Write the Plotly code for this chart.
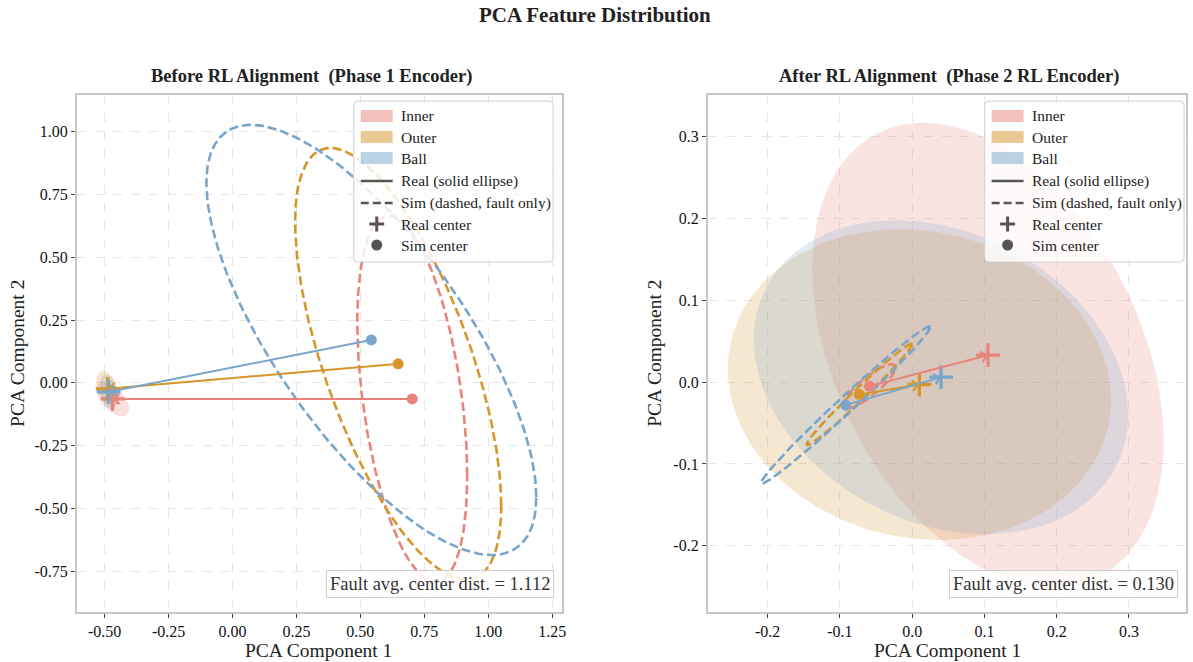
import numpy as np
import plotly.graph_objects as go

# ---------------- data ----------------
classes = ["Inner", "Outer", "Ball"]

# Before RL alignment (Phase 1 encoder)
before_real_cx = [-0.469, -0.488, -0.484]
before_real_cy = [-0.064, -0.024, -0.036]
before_sim_cx = [0.703, 0.648, 0.543]
before_sim_cy = [-0.064, 0.076, 0.171]
before_real_sx = [0.065, 0.045, 0.035]
before_real_sy = [0.070, 0.072, 0.070]
before_real_rho = [-0.60, -0.40, -0.30]
before_sim_sx = [0.215, 0.403, 0.645]
before_sim_sy = [0.730, 0.860, 0.857]
before_sim_rho = [-0.42, -0.657, -0.73]
before_dist_text = "Fault avg. center dist. = 1.112"

# After RL alignment (Phase 2 RL encoder)
after_real_cx = [0.105, 0.010, 0.040]
after_real_cy = [0.033, -0.003, 0.006]
after_sim_cx = [-0.059, -0.073, -0.092]
after_sim_cy = [-0.005, -0.015, -0.028]
after_real_sx = [0.243, 0.265, 0.259]
after_real_sy = [0.284, 0.190, 0.192]
after_real_rho = [-0.37, -0.10, -0.24]
after_sim_sx = [0.036, 0.073, 0.117]
after_sim_sy = [0.027, 0.062, 0.096]
after_sim_rho = [0.85, 0.987, 0.99]
after_dist_text = "Fault avg. center dist. = 0.130"

left_xticks = [-0.5, -0.25, 0.0, 0.25, 0.5, 0.75, 1.0, 1.25]
left_xlabels = ["-0.50", "-0.25", "0.00", "0.25", "0.50", "0.75", "1.00", "1.25"]
left_yticks = [-0.75, -0.5, -0.25, 0.0, 0.25, 0.5, 0.75, 1.0]
left_ylabels = ["-0.75", "-0.50", "-0.25", "0.00", "0.25", "0.50", "0.75", "1.00"]
right_xticks = [-0.2, -0.1, 0.0, 0.1, 0.2, 0.3]
right_xlabels = ["-0.2", "-0.1", "0.0", "0.1", "0.2", "0.3"]
right_yticks = [-0.2, -0.1, 0.0, 0.1, 0.2, 0.3]
right_ylabels = ["-0.2", "-0.1", "0.0", "0.1", "0.2", "0.3"]

legend_labels = ["Inner", "Outer", "Ball", "Real (solid ellipse)", "Sim (dashed, fault only)",
                 "Real center", "Sim center"]

# ---------------- style ----------------
colors = ["#E8847A", "#D6962A", "#7AA5CB"]
rgb = [(232, 132, 122), (214, 150, 42), (122, 165, 203)]
FONT = "Liberation Serif"
W, H = 1193, 662
L_AX = (77, 564)
R_AX = (710, 1190)
Y_AX = (95, 612)
DASH = "9px,4px"


def px_x(p):
    return p / W


def px_y(p):
    return 1 - p / H


def ellipse(cx, cy, sx, sy, rho, n=241):
    t = np.linspace(0, 2 * np.pi, n)
    x = cx + sx * np.cos(t)
    y = cy + sy * (rho * np.cos(t) + np.sqrt(1 - rho ** 2) * np.sin(t))
    return x, y


fig = go.Figure()
shapes = []


def add_panel(xa, ya, rcx, rcy, scx, scy, rsx, rsy, rrho, ssx, ssy, srho, fill_alpha):
    for i in range(3):
        x, y = ellipse(rcx[i], rcy[i], rsx[i], rsy[i], rrho[i])
        r, g, b = rgb[i]
        fig.add_trace(go.Scatter(x=x, y=y, xaxis=xa, yaxis=ya, mode="lines", fill="toself",
                                 fillcolor=f"rgba({r},{g},{b},{fill_alpha})",
                                 line=dict(width=0, color=f"rgba({r},{g},{b},0)"),
                                 showlegend=False, hoverinfo="skip"))
    for i in range(3):
        x, y = ellipse(scx[i], scy[i], ssx[i], ssy[i], srho[i])
        fig.add_trace(go.Scatter(x=x, y=y, xaxis=xa, yaxis=ya, mode="lines",
                                 line=dict(width=2.6, color=colors[i], dash=DASH),
                                 showlegend=False, hoverinfo="skip"))
    for i in range(3):
        fig.add_trace(go.Scatter(x=[scx[i]], y=[scy[i]], xaxis=xa, yaxis=ya, mode="markers",
                                 marker=dict(symbol="circle", size=11, color=colors[i]),
                                 showlegend=False))
        fig.add_trace(go.Scatter(x=[rcx[i]], y=[rcy[i]], xaxis=xa, yaxis=ya, mode="markers",
                                 marker=dict(symbol="cross-thin", size=17,
                                             line=dict(width=3.2, color=colors[i])),
                                 showlegend=False))
        fig.add_annotation(x=rcx[i], y=rcy[i], ax=scx[i], ay=scy[i], xref=xa, yref=ya,
                           axref=xa, ayref=ya, showarrow=True, arrowhead=4, arrowsize=1,
                           arrowwidth=2, arrowcolor=colors[i], standoff=0, text="")


def rounded_rect(x0, y0, x1, y1, r=4):
    # pixel coords (y downward) -> paper path with rounded corners
    def P(x, y):
        return f"{px_x(x):.5f},{px_y(y):.5f}"
    return (f"M {P(x0 + r, y0)} L {P(x1 - r, y0)} Q {P(x1, y0)} {P(x1, y0 + r)} "
            f"L {P(x1, y1 - r)} Q {P(x1, y1)} {P(x1 - r, y1)} L {P(x0 + r, y1)} "
            f"Q {P(x0, y1)} {P(x0, y1 - r)} L {P(x0, y0 + r)} Q {P(x0, y0)} {P(x0 + r, y0)} Z")


def add_legend(x0):
    # x0: left pixel of legend box
    y0, y1, x1 = 101, 262, x0 + 200
    shapes.append(dict(type="path", xref="paper", yref="paper", path=rounded_rect(x0, y0, x1, y1),
                       fillcolor="rgba(255,255,255,0.82)", line=dict(color="#d0d0d0", width=1),
                       layer="above"))
    rows = [116, 137, 158, 181, 203, 224, 245]
    sx0, sx1 = x0 + 7, x0 + 39
    mid = (sx0 + sx1) / 2
    for i in range(3):
        r, g, b = rgb[i]
        shapes.append(dict(type="rect", xref="paper", yref="paper",
                           x0=px_x(sx0), x1=px_x(sx1), y0=px_y(rows[i] + 6), y1=px_y(rows[i] - 6),
                           fillcolor=f"rgba({r},{g},{b},0.5)", line=dict(width=0), layer="above"))
    shapes.append(dict(type="line", xref="paper", yref="paper", x0=px_x(sx0), x1=px_x(sx1),
                       y0=px_y(rows[3]), y1=px_y(rows[3]), line=dict(color="#555555", width=2.5),
                       layer="above"))
    shapes.append(dict(type="line", xref="paper", yref="paper", x0=px_x(sx0), x1=px_x(sx1),
                       y0=px_y(rows[4]), y1=px_y(rows[4]),
                       line=dict(color="#555555", width=2.5, dash="8px,4px"), layer="above"))
    # plus marker
    shapes.append(dict(type="line", xref="paper", yref="paper", x0=px_x(mid - 7.5), x1=px_x(mid + 7.5),
                       y0=px_y(rows[5]), y1=px_y(rows[5]), line=dict(color="#555555", width=3),
                       layer="above"))
    shapes.append(dict(type="line", xref="paper", yref="paper", x0=px_x(mid), x1=px_x(mid),
                       y0=px_y(rows[5] - 7.5), y1=px_y(rows[5] + 7.5), line=dict(color="#555555", width=3),
                       layer="above"))
    # circle marker
    shapes.append(dict(type="circle", xref="paper", yref="paper", x0=px_x(mid - 5.5), x1=px_x(mid + 5.5),
                       y0=px_y(rows[6] + 5.5), y1=px_y(rows[6] - 5.5), fillcolor="#555555",
                       line=dict(width=0), layer="above"))
    for lab, ry in zip(legend_labels, rows):
        fig.add_annotation(text=lab, x=px_x(x0 + 45), y=px_y(ry), xref="paper", yref="paper",
                           showarrow=False, xanchor="left", yanchor="middle",
                           font=dict(family=FONT, size=15.5, color="#222222"))


add_panel("x", "y", before_real_cx, before_real_cy, before_sim_cx, before_sim_cy,
          before_real_sx, before_real_sy, before_real_rho, before_sim_sx, before_sim_sy, before_sim_rho, 0.25)
add_panel("x2", "y2", after_real_cx, after_real_cy, after_sim_cx, after_sim_cy,
          after_real_sx, after_real_sy, after_real_rho, after_sim_sx, after_sim_sy, after_sim_rho, 0.22)
add_legend(355)
add_legend(988)

axis_common = dict(showline=True, mirror=True, linecolor="#c8c8c8", linewidth=1.5,
                   ticks="outside", ticklen=4, tickcolor="#444444", tickwidth=1,
                   showgrid=True, gridcolor="#e6e6e6", griddash="dash", gridwidth=1,
                   zeroline=False, tickfont=dict(family=FONT, size=16, color="#111111"))

fig.update_layout(
    width=W, height=H, margin=dict(l=0, r=0, t=0, b=0),
    paper_bgcolor="white", plot_bgcolor="white", showlegend=False,
    xaxis=dict(domain=[px_x(L_AX[0]), px_x(L_AX[1])], range=[-0.609, 1.289],
               tickvals=left_xticks, ticktext=left_xlabels, anchor="y", **axis_common),
    yaxis=dict(domain=[px_y(Y_AX[1]), px_y(Y_AX[0])], range=[-0.913, 1.147],
               tickvals=left_yticks, ticktext=left_ylabels, anchor="x", **axis_common),
    xaxis2=dict(domain=[px_x(R_AX[0]), px_x(R_AX[1])], range=[-0.283, 0.379],
                tickvals=right_xticks, ticktext=right_xlabels, anchor="y2", **axis_common),
    yaxis2=dict(domain=[px_y(Y_AX[1]), px_y(Y_AX[0])], range=[-0.281, 0.351],
                tickvals=right_yticks, ticktext=right_ylabels, anchor="x2", **axis_common),
    shapes=shapes,
)

texts = [
    ("<b>PCA Feature Distribution</b>", px_x(597), px_y(15), 21, 0),
    ("<b>Before RL Alignment  (Phase 1 Encoder)</b>", px_x(313), px_y(77), 18.5, 0),
    ("<b>After RL Alignment  (Phase 2 RL Encoder)</b>", px_x(952), px_y(77), 18.5, 0),
    ("PCA Component 1", px_x(320), px_y(650), 19.5, 0),
    ("PCA Component 1", px_x(951), px_y(650), 19.5, 0),
    ("PCA Component 2", px_x(18), px_y(353), 19.5, -90),
    ("PCA Component 2", px_x(657), px_y(353), 19.5, -90),
]
for t, x, y, s, ang in texts:
    fig.add_annotation(text=t, x=x, y=y, xref="paper", yref="paper", showarrow=False,
                       xanchor="center", yanchor="middle", textangle=ang,
                       font=dict(family=FONT, size=s, color="#222222"))

for xa, ya, txt in (("x", "y", before_dist_text), ("x2", "y2", after_dist_text)):
    fig.add_annotation(text=txt, xref=f"{xa} domain", yref=f"{ya} domain", x=0.984, y=0.027,
                       xanchor="right", yanchor="bottom", showarrow=False,
                       font=dict(family=FONT, size=18.5, color="#333333"),
                       bgcolor="rgba(255,255,255,0.85)", bordercolor="#cfcfcf", borderwidth=1,
                       borderpad=3)

fig.write_html("out.html")
